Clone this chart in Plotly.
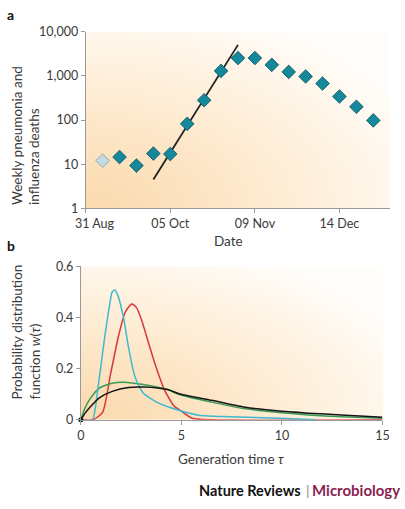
import base64
import plotly.graph_objects as go

# ---------------- Data: panel a ----------------
week_dates = ["1918-09-07", "1918-09-14", "1918-09-21", "1918-09-28", "1918-10-05",
              "1918-10-12", "1918-10-19", "1918-10-26", "1918-11-02", "1918-11-09",
              "1918-11-16", "1918-11-23", "1918-11-30", "1918-12-07", "1918-12-14",
              "1918-12-21", "1918-12-28"]
weekly_deaths = [12, 14.5, 9.3, 17.4, 17, 82, 280, 1290, 2520, 2520,
                 1770, 1225, 965, 668, 340, 199, 98]
fit_dates = ["1918-09-28", "1918-11-02"]
fit_values = [4.5, 5000]
date_tickvals = ["1918-08-31", "1918-10-05", "1918-11-09", "1918-12-14"]
date_ticktext = ["31 Aug", "05 Oct", "09 Nov", "14 Dec"]
deaths_tickvals = [1, 10, 100, 1000, 10000]
deaths_ticktext = ["1", "10", "100", "1,000", "10,000"]

# ---------------- Data: panel b ----------------
cyan_tau = [0, 0.57, 0.84, 1.16, 1.40, 1.56, 1.69, 1.85, 2.13, 2.37, 2.69, 3.1, 3.82, 4.79, 5.86, 7.45, 9.9, 11.7]
cyan_w = [0, 0, 0.118, 0.307, 0.434, 0.5, 0.507, 0.484, 0.396, 0.283, 0.168, 0.105, 0.067, 0.039, 0.018, 0.012, 0.006, 0.0]
red_tau = [0, 0.6, 1.08, 1.48, 1.89, 2.21, 2.53, 2.75, 3.0, 3.34, 3.74, 4.15, 4.63, 4.89, 5.53, 6.5, 15]
red_w = [0, 0, 0.029, 0.18, 0.333, 0.421, 0.452, 0.44, 0.395, 0.307, 0.206, 0.118, 0.054, 0.04, 0.006, 0, 0]
green_tau = [0, 0.2, 0.44, 0.92, 1.56, 2.13, 3.18, 4.31, 4.89, 6.5, 8.1, 9.73, 11.3, 12.95, 15]
green_w = [0, 0.045, 0.08, 0.124, 0.143, 0.147, 0.137, 0.118, 0.099, 0.069, 0.044, 0.029, 0.019, 0.012, 0.006]
black_tau = [0, 0.2, 0.44, 0.92, 1.56, 2.37, 3.18, 4.31, 4.89, 6.5, 8.1, 9.73, 11.3, 12.95, 15]
black_w = [0, 0.025, 0.048, 0.086, 0.111, 0.126, 0.128, 0.118, 0.102, 0.076, 0.05, 0.035, 0.026, 0.019, 0.01]
tau_ticks = [0, 5, 10, 15]
w_ticks = [0, 0.2, 0.4, 0.6]
w_ticktext = ["0", "0.2", "0.4", "0.6"]

FONT = "Lato"
AX = "#9a9a9a"
TXT = "#3a3a3a"

# gradient background (svg data uri)
svg = ('<svg xmlns="http://www.w3.org/2000/svg" width="400" height="200" viewBox="0 0 400 200" preserveAspectRatio="none">'
       '<defs><radialGradient id="g" cx="0" cy="1" r="1.2" gradientUnits="objectBoundingBox">'
       '<stop offset="0" stop-color="#fad9ac"/><stop offset="0.4" stop-color="#fde7c9"/>'
       '<stop offset="0.75" stop-color="#fff4e5"/><stop offset="1" stop-color="#fffdfa"/>'
       '</radialGradient></defs><rect width="400" height="200" fill="url(#g)"/></svg>')
bg_src = "data:image/svg+xml;base64," + base64.b64encode(svg.encode()).decode()

fig = go.Figure()

# panel a
marker_colors = ["#c4dbe2"] + ["#15899b"] * (len(weekly_deaths) - 1)
marker_lines = ["#7f9ea8"] + ["#0b4f5a"] * (len(weekly_deaths) - 1)
fig.add_trace(go.Scatter(x=fit_dates, y=fit_values, mode="lines",
                         line=dict(color="#222222", width=1.8), xaxis="x", yaxis="y",
                         showlegend=False))
fig.add_trace(go.Scatter(x=week_dates, y=weekly_deaths, mode="markers",
                         marker=dict(symbol="diamond", size=10.5, color=marker_colors,
                                     line=dict(color=marker_lines, width=0.8)),
                         xaxis="x", yaxis="y", showlegend=False))

# panel b
for t, w, c in [(red_tau, red_w, "#d8363c"), (green_tau, green_w, "#3a9a55"),
                (cyan_tau, cyan_w, "#3fb8d2"), (black_tau, black_w, "#151515")]:
    fig.add_trace(go.Scatter(x=t, y=w, mode="lines",
                             line=dict(color=c, width=1.5, shape="spline", smoothing=0.6),
                             xaxis="x2", yaxis="y2", showlegend=False))
fig.add_trace(go.Scatter(x=black_tau[:1], y=black_w[:1], mode="markers",
                         marker=dict(color="#151515", size=5), xaxis="x2", yaxis="y2",
                         showlegend=False, cliponaxis=False))

axis_common = dict(showline=True, linecolor=AX, linewidth=1, ticks="outside",
                   tickcolor=AX, ticklen=4, showgrid=False, zeroline=False,
                   tickfont=dict(family=FONT, size=12.5, color=TXT))

xa_dom = [84 / 405, 397 / 405]
ya_dom = [(509 - 206.5) / 509, (509 - 24.3) / 509]
xb_dom = [79 / 405, 389 / 405]
yb_dom = [(509 - 424.3) / 509, (509 - 266) / 509]

fig.update_layout(
    width=405, height=509,
    margin=dict(l=0, r=0, t=0, b=0),
    paper_bgcolor="white", plot_bgcolor="rgba(0,0,0,0)",
    font=dict(family=FONT, color=TXT),
    xaxis=dict(domain=xa_dom, type="date", range=["1918-08-31", "1919-01-04"],
               tickvals=date_tickvals, ticktext=[""] + date_ticktext[1:],
               anchor="y", **axis_common),
    yaxis=dict(domain=ya_dom, type="log", range=[0, 4], tickvals=deaths_tickvals,
               ticktext=deaths_ticktext, anchor="x", **axis_common),
    xaxis2=dict(domain=xb_dom, range=[0, 15], tickvals=tau_ticks, anchor="y2", **axis_common),
    yaxis2=dict(domain=yb_dom, range=[0, 0.6], tickvals=w_ticks, ticktext=w_ticktext,
                anchor="x2", **axis_common),
    images=[
        dict(source=bg_src, xref="paper", yref="paper", x=xa_dom[0], y=ya_dom[1],
             sizex=xa_dom[1] - xa_dom[0], sizey=ya_dom[1] - ya_dom[0],
             sizing="stretch", layer="below", xanchor="left", yanchor="top"),
        dict(source=bg_src, xref="paper", yref="paper", x=xb_dom[0], y=yb_dom[1],
             sizex=xb_dom[1] - xb_dom[0] + 1 / 405, sizey=yb_dom[1] - yb_dom[0],
             sizing="stretch", layer="below", xanchor="left", yanchor="top"),
    ],
)

def px(x):
    return x / 405

def py(y):
    return (509 - y) / 509

ann = [
    dict(text="<b>a</b>", x=px(1), y=py(7), xanchor="left", yanchor="middle",
         font=dict(size=14, color="#111")),
    dict(text="<b>b</b>", x=px(1), y=py(245), xanchor="left", yanchor="middle",
         font=dict(size=14, color="#111")),
    dict(text=date_ticktext[0], x=px(94), y=py(222.5), xanchor="center", yanchor="middle",
         font=dict(size=12.5, color=TXT)),
    dict(text="Weekly pneumonia and<br>influenza deaths", textangle=-90, align="left",
         x=px(22.5), y=py(131), xanchor="center", yanchor="middle",
         font=dict(size=13.5, color=TXT)),
    dict(text="Date", x=px(231), y=py(240), xanchor="center", yanchor="middle",
         font=dict(size=13.5, color=TXT)),
    dict(text="Probability distribution<br>function <i>w</i>(<i>τ</i>)", textangle=-90,
         align="left", x=px(22.5), y=py(333.5), xanchor="center", yanchor="middle",
         font=dict(size=13.5, color=TXT)),
    dict(text="Generation time <i>τ</i>", x=px(233), y=py(465), xanchor="center",
         yanchor="middle", font=dict(size=13.5, color=TXT)),
    dict(text="<b>Microbiology</b>", x=px(409), y=py(497), xanchor="right", yanchor="middle",
         font=dict(size=15, color="#8a1f52")),
    dict(text="|", x=px(312), y=py(497), xanchor="center", yanchor="middle",
         font=dict(size=14, color="#888888")),
    dict(text="<b>Nature Reviews</b>", x=px(307), y=py(497), xanchor="right", yanchor="middle",
         font=dict(size=14.5, color="#111111")),
]
for a in ann:
    a.update(xref="paper", yref="paper", showarrow=False)
    a["font"]["family"] = FONT
fig.update_layout(annotations=ann)

fig.write_html("out.html", config={"displayModeBar": False},
               post_script="document.body.style.margin='0';")
